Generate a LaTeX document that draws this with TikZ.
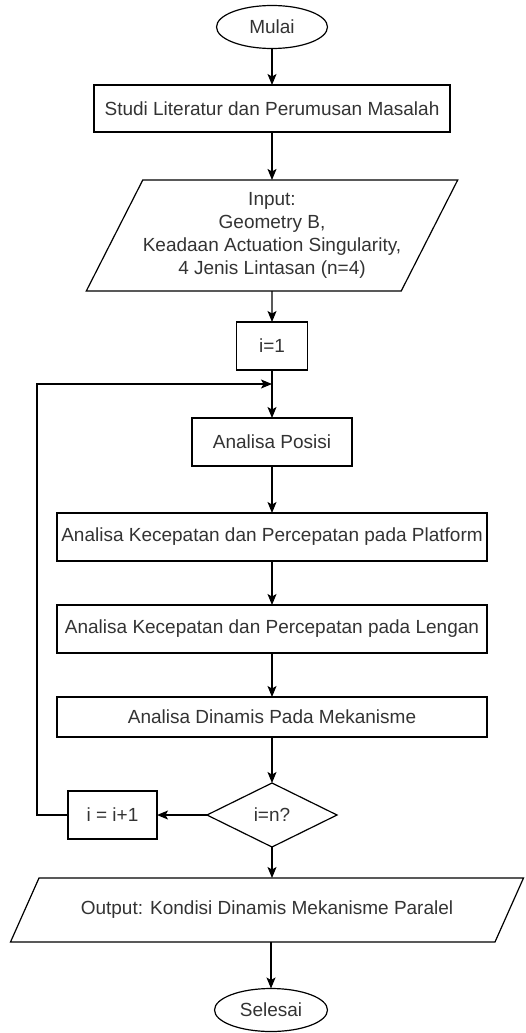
\documentclass[tikz,border=0pt]{standalone}
\usepackage{fontspec}
\setmainfont{Liberation Sans}
\usetikzlibrary{arrows.meta,shapes.geometric}
\definecolor{ink}{HTML}{333333}
\tikzset{
  base/.style={draw=black, line width=1.2pt, text=ink, font=\fontsize{19}{23}\selectfont, inner sep=2pt, outer sep=0pt, align=center},
  box/.style={base, rectangle, minimum height=48pt},
  term/.style={base, ellipse, minimum width=111pt, minimum height=43pt},
  io/.style={base, trapezium, trapezium stretches body, inner sep=0pt},
  cond/.style={base, diamond, minimum width=130pt, minimum height=64pt, inner sep=0pt},
  arr/.style={-{Stealth[length=11pt, width=9pt, inset=2.5pt]}, line width=1.2pt}
}

\begin{document}
\begin{tikzpicture}[x=1pt,y=-1pt]
\useasboundingbox (0,0) rectangle (526,1033);
\node[term] (mulai) at (272,27) {Mulai};
\node[box, minimum width=356pt, minimum height=47pt] (studi) at (272,108.5) {Studi Literatur dan Perumusan Masalah};
\node[io, trapezium left angle=56.7, trapezium right angle=123.3, minimum width=368pt, minimum height=111pt] (inp) at (272,235.5) {Input:\\Geometry B,\\Keadaan Actuation Singularity,\\4 Jenis Lintasan (n=4)};
\node[box, minimum width=71pt] (i1) at (272,346) {i=1};
\node[box, minimum width=160pt] (ap) at (272,442) {Analisa Posisi};
\node[box, minimum width=430pt] (plat) at (272,537) {Analisa Kecepatan dan Percepatan pada Platform};
\node[box, minimum width=430pt] (leng) at (272,629) {Analisa Kecepatan dan Percepatan pada Lengan};
\node[box, minimum width=430pt, minimum height=40pt] (dyn) at (272,717) {Analisa Dinamis Pada Mekanisme};
\node[cond] (cek) at (272,815) {i=n?};
\node[box, minimum width=89pt] (inc) at (112.5,815) {i = i+1};
\node[io, trapezium left angle=31.85, trapezium right angle=148.15, minimum width=513pt, minimum height=64pt] (out) at (267,910) {Output: Kondisi Dinamis Mekanisme Paralel};
\node[term, minimum width=113pt] (selesai) at (271,1010) {Selesai};
\coordinate (back) at (272,384);
\draw[arr] (mulai) -- (studi);
\draw[arr] (studi) -- (inp);
\draw[arr] (inp) -- (i1);
\draw[arr] (i1) -- (ap);
\draw[arr] (ap) -- (plat);
\draw[arr] (plat) -- (leng);
\draw[arr] (leng) -- (dyn);
\draw[arr] (dyn) -- (cek);
\draw[arr] (cek) -- (inc);
\draw[arr] (inc.west) -- ++(-31,0) |- (back);
\draw[arr] (cek) -- (cek |- out.north);
\draw[arr] (out.south -| selesai) -- (selesai);
\end{tikzpicture}
\end{document}
